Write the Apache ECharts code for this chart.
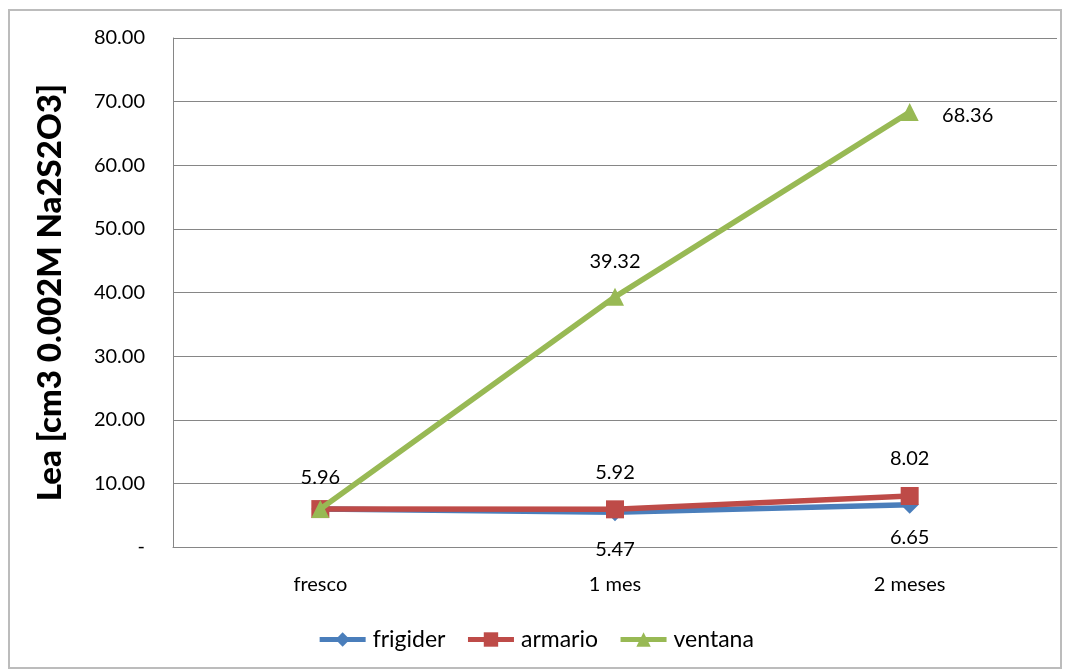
<!DOCTYPE html>
<html>
<head>
<meta charset="utf-8">
<script src="https://cdn.jsdelivr.net/npm/echarts@6/dist/echarts.min.js"></script>
<style>
  html, body { margin: 0; padding: 0; background: #fff; }
  #frame { position: absolute; left: 8px; top: 9px; width: 1054px; height: 660px; border: 2px solid #bcbcbc; box-sizing: border-box; }
  #chart { position: absolute; left: 0; top: 0; width: 1071px; height: 671px; }
</style>
</head>
<body>
<div id="frame"></div>
<div id="chart"></div>
<script>
// Sample ages and measured Lea for each storage condition
const categories = ['fresco', '1 mes', '2 meses'];
const frigider = [5.96, 5.47, 6.65];
const armario = [5.96, 5.92, 8.02];
const ventana = [5.96, 39.32, 68.36];
const yTicks = { min: 0, max: 80, interval: 10 };

const FONT = 'Lato, "Open Sans", sans-serif';
const labelStyle = { fontFamily: FONT, fontSize: 20, color: '#000' };

const chart = echarts.init(document.getElementById('chart'), null, { renderer: 'canvas' });

chart.setOption({
  animation: false,
  grid: { left: 173, right: 14, top: 38, bottom: 124 },
  legend: {
    bottom: 15,
    left: 'center',
    itemWidth: 46,
    itemHeight: 18,
    itemGap: 20,
    lineStyle: { width: 5 },
    textStyle: { fontFamily: FONT, fontSize: 23, color: '#000', padding: [0, 0, 0, 2] },
    data: ['frigider', 'armario', 'ventana']
  },
  xAxis: {
    type: 'category',
    data: categories,
    boundaryGap: true,
    axisLine: { lineStyle: { color: '#868686', width: 1 } },
    axisTick: { show: false },
    axisLabel: { fontFamily: FONT, fontSize: 20, color: '#000', margin: 28 }
  },
  yAxis: {
    type: 'value',
    min: yTicks.min,
    max: yTicks.max,
    interval: yTicks.interval,
    axisLine: { show: true, lineStyle: { color: '#868686', width: 1 } },
    axisTick: { show: false },
    splitLine: { lineStyle: { color: '#868686', width: 1 } },
    axisLabel: {
      fontFamily: FONT, fontSize: 20, color: '#000', margin: 28,
      formatter: v => (v === 0 ? '-' : v.toFixed(2))
    },
    name: 'Lea [cm3 0.002M Na2S2O3]',
    nameLocation: 'middle',
    nameGap: 106,
    nameTextStyle: { fontFamily: FONT, fontSize: 33, fontWeight: 900, color: '#000' }
  },
  series: [
    {
      name: 'frigider',
      type: 'line',
      data: frigider,
      symbol: 'diamond',
      symbolSize: 18,
      lineStyle: { width: 5.5, color: '#4a7ebb' },
      itemStyle: { color: '#4a7ebb' },
      z: 2,
      label: {
        show: true, position: 'bottom', distance: 18, ...labelStyle,
        formatter: p => (p.dataIndex === 0 ? '' : p.value.toFixed(2))
      },
      labelLayout: p => (p.dataIndex === 2 ? { dy: -4 } : {})
    },
    {
      name: 'armario',
      type: 'line',
      data: armario,
      symbol: 'rect',
      symbolSize: 18,
      lineStyle: { width: 5.5, color: '#be4b48' },
      itemStyle: { color: '#be4b48' },
      z: 3,
      label: {
        show: true, position: 'top', distance: 18, ...labelStyle,
        formatter: p => p.value.toFixed(2)
      },
      labelLayout: p => (p.dataIndex === 0 ? { dy: 5 } : {})
    },
    {
      name: 'ventana',
      type: 'line',
      data: ventana,
      symbol: 'triangle',
      symbolSize: 18,
      lineStyle: { width: 5.5, color: '#98b954' },
      itemStyle: { color: '#98b954' },
      z: 4,
      label: {
        show: true, ...labelStyle,
        position: 'top', distance: 16,
        formatter: p => (p.dataIndex === 0 ? '' : p.value.toFixed(2))
      },
      labelLayout: p => (p.dataIndex === 2 ? { dx: 58, dy: 38 } : {})
    }
  ]
});
</script>
</body>
</html>
